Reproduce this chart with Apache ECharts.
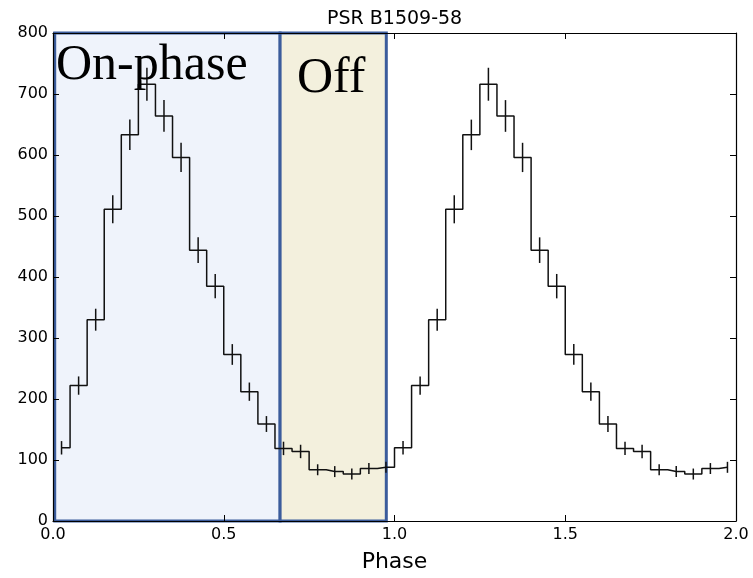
<!DOCTYPE html>
<html>
<head>
<meta charset="utf-8">
<script src="https://cdn.jsdelivr.net/npm/echarts@6/dist/echarts.min.js"></script>
<style>
  html, body { margin: 0; padding: 0; background: #fff; }
  #chart { width: 753px; height: 578px; }
</style>
</head>
<body>
<div id="chart"></div>
<script>
// one rotation of the pulse profile, 20 bins of 0.05 in phase
const binCenters = [0.025, 0.075, 0.125, 0.175, 0.225, 0.275, 0.325, 0.375, 0.425, 0.475,
  0.525, 0.575, 0.625, 0.675, 0.725, 0.775, 0.825, 0.875, 0.925, 0.975]
const counts = [120, 222, 330, 511, 633, 716, 664, 596, 444, 385,
  273, 212, 159, 119, 114, 84, 81, 77, 86, 88]
const errors = [11, 15, 18, 23, 25, 27, 26, 24, 21, 20,
  17, 15, 13, 11, 11, 9, 9, 9, 9, 9]
const xTicks = [0, 0.5, 1.0, 1.5, 2.0]
const yTicks = [0, 100, 200, 300, 400, 500, 600, 700, 800]
// shaded phase windows (drawn as boxes over the plot)
const onPhase = [0.005, 0.665]
const offPhase = [0.665, 0.976]

// profile is plotted twice (phase 0-2)
const profile = []
const bars = []
for (let cycle = 0; cycle < 2; cycle++) {
  binCenters.forEach((c, i) => {
    profile.push([c + cycle, counts[i]])
    bars.push([c + cycle, counts[i], errors[i]])
  })
}

const chart = echarts.init(document.getElementById('chart'))

const axisFont = { fontFamily: 'DejaVu Sans', fontSize: 16, color: '#000' }
const boxBorder = '#3b5c9c'

const option = {
  animation: false,
  title: {
    text: 'PSR B1509-58',
    left: 322,
    top: 5,
    textStyle: { fontFamily: 'DejaVu Sans', fontSize: 19, fontWeight: 'normal', color: '#000' }
  },
  grid: { left: 53, right: 17, top: 33, bottom: 56 },
  xAxis: [
    {
      type: 'value', min: xTicks[0], max: xTicks[xTicks.length - 1], interval: 0.5,
      z: 10,
      name: 'Phase', nameLocation: 'middle', nameGap: 30,
      nameTextStyle: { fontFamily: 'DejaVu Sans', fontSize: 22, color: '#000' },
      axisLine: { onZero: false, lineStyle: { color: '#000', width: 1.2 } },
      axisTick: { inside: true, length: 6, lineStyle: { color: '#000' } },
      axisLabel: { ...axisFont, margin: 6, formatter: v => v.toFixed(1) },
      splitLine: { show: false }
    },
    {
      type: 'value', position: 'top', min: 0, max: 2, interval: 0.5,
      z: 10,
      axisLine: { onZero: false, lineStyle: { color: '#000', width: 1.2 } },
      axisTick: { inside: true, length: 6, lineStyle: { color: '#000' } },
      axisLabel: { show: false },
      splitLine: { show: false }
    }
  ],
  yAxis: [
    {
      type: 'value', min: yTicks[0], max: yTicks[yTicks.length - 1], interval: 100,
      z: 10,
      axisLine: { show: true, onZero: false, lineStyle: { color: '#000', width: 1.2 } },
      axisTick: { show: true, inside: true, length: 6, lineStyle: { color: '#000' } },
      axisLabel: { ...axisFont, margin: 5 },
      splitLine: { show: false }
    },
    {
      type: 'value', position: 'right', min: 0, max: 800, interval: 100,
      z: 10,
      axisLine: { show: true, onZero: false, lineStyle: { color: '#000', width: 1.2 } },
      axisTick: { show: true, inside: true, length: 6, lineStyle: { color: '#000' } },
      axisLabel: { show: false },
      splitLine: { show: false }
    }
  ],
  series: [
    {
      // phase boxes
      type: 'line',
      data: [],
      z: 1,
      silent: true,
      markArea: {
        silent: true,
        data: [
          [
            { xAxis: onPhase[0], yAxis: 0, itemStyle: { color: '#eff3fb', borderColor: boxBorder, borderWidth: 3 } },
            { xAxis: onPhase[1], yAxis: 800 }
          ],
          [
            { xAxis: offPhase[0], yAxis: 0, itemStyle: { color: '#f3f0dd', borderColor: boxBorder, borderWidth: 3 } },
            { xAxis: offPhase[1], yAxis: 800 }
          ]
        ]
      }
    },
    {
      name: 'profile',
      type: 'line',
      step: 'middle',
      z: 3,
      data: profile,
      symbol: 'none',
      lineStyle: { color: '#111', width: 1.5 }
    },
    {
      name: 'errors',
      type: 'custom',
      z: 4,
      data: bars,
      renderItem: function (params, api) {
        const x = api.value(0)
        const y = api.value(1)
        const e = api.value(2)
        const p1 = api.coord([x, y - e])
        const p2 = api.coord([x, y + e])
        return {
          type: 'line',
          shape: { x1: p1[0], y1: p1[1], x2: p2[0], y2: p2[1] },
          style: { stroke: '#111', lineWidth: 1.5 }
        }
      }
    }
  ],
  graphic: [
    {
      type: 'text', left: 56, top: 41, z: 20,
      style: { text: 'On-phase', fontFamily: 'Liberation Serif', fontSize: 50, fill: '#000' }
    },
    {
      type: 'text', left: 297, top: 54, z: 20,
      style: { text: 'Off', fontFamily: 'Liberation Serif', fontSize: 50, fill: '#000' }
    }
  ]
}

chart.setOption(option)
</script>
</body>
</html>
